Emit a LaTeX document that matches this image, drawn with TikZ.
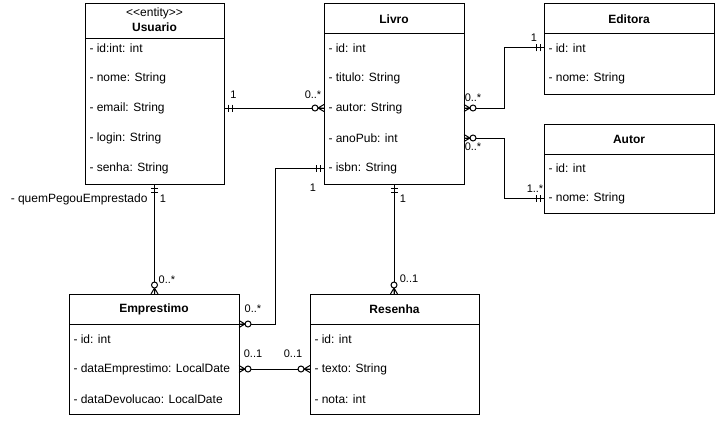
\documentclass[tikz,border=0pt]{standalone}
\usepackage{fontspec}
\setmainfont{Liberation Sans}
\usetikzlibrary{calc}
\begin{document}
\begin{tikzpicture}[x=1pt,y=-1pt,line width=1pt,
  classbox/.style={draw,anchor=north west,inner sep=0,outer sep=0},
  attr/.style={anchor=west,inner sep=0,font=\fontsize{12}{14}\selectfont},
  ctitle/.style={inner sep=0,font=\bfseries\fontsize{12}{14}\selectfont},
  plain/.style={inner sep=0,font=\fontsize{12}{14}\selectfont},
  mult/.style={inner sep=0,font=\fontsize{11}{13}\selectfont},
  mandone/.pic={\draw (4,-3.5)--(4,3.5) (8,-3.5)--(8,3.5);},
  zeromany/.pic={\draw (0,-3.5)--(6,0)--(0,3.5) (0,0)--(6,0);
                 \draw[fill=white] (9,0) circle[radius=3];}
]
\useasboundingbox (0,0) rectangle (719,420);

% ---------- Usuario ----------
\node[classbox,minimum width=139pt,minimum height=180pt] (usuario) at (85,4) {};
\draw ($(usuario.north west)+(0,35)$) -- ($(usuario.north east)+(0,35)$);
\node[plain] (u-st) at (154.5,13) {<\kern0pt<entity>\kern0pt>};
\node[ctitle] (u-t) at (154.5,27) {Usuario};
\node[attr] (u-id) at (89,48) {- id:int: int};
\node[attr] (u-nome) at (89,78) {- nome: String};
\node[attr] (u-email) at (89,108) {- email: String};
\node[attr] (u-login) at (89,138) {- login: String};
\node[attr] (u-senha) at (89,168) {- senha: String};

% ---------- Livro ----------
\node[classbox,minimum width=140pt,minimum height=180pt] (livro) at (324,4) {};
\draw ($(livro.north west)+(0,30)$) -- ($(livro.north east)+(0,30)$);
\node[ctitle] (l-t) at (394,19) {Livro};
\node[attr] (l-id) at (328,48) {- id: int};
\node[attr] (l-titulo) at (328,78) {- titulo: String};
\node[attr] (l-autor) at (328,108) {- autor: String};
\node[attr] (l-anopub) at (328,138) {- anoPub: int};
\node[attr] (l-isbn) at (328,168) {- isbn: String};

% ---------- Editora ----------
\node[classbox,minimum width=170pt,minimum height=90pt] (editora) at (544,4) {};
\draw ($(editora.north west)+(0,30)$) -- ($(editora.north east)+(0,30)$);
\node[ctitle] (ed-t) at (629,19) {Editora};
\node[attr] (ed-id) at (548,48) {- id: int};
\node[attr] (ed-nome) at (548,78) {- nome: String};

% ---------- Autor ----------
\node[classbox,minimum width=170pt,minimum height=89pt] (autor) at (544,124) {};
\draw ($(autor.north west)+(0,30)$) -- ($(autor.north east)+(0,30)$);
\node[ctitle] (a-t) at (629,139) {Autor};
\node[attr] (a-id) at (548,168) {- id: int};
\node[attr] (a-nome) at (548,198) {- nome: String};

% ---------- Emprestimo ----------
\node[classbox,minimum width=170pt,minimum height=120pt] (emprestimo) at (69,294) {};
\coordinate (esep) at ($(emprestimo.north east)+(0,30)$);
\draw ($(emprestimo.north west)+(0,30)$) -- (esep);
\node[ctitle] (e-t) at (154,309) {Emprestimo};
\node[attr] (e-id) at (73,339) {- id: int};
\node[attr] (e-data) at (73,369) {- dataEmprestimo: LocalDate};
\node[attr] (e-dev) at (73,399) {- dataDevolucao: LocalDate};

% ---------- Resenha ----------
\node[classbox,minimum width=169pt,minimum height=120pt] (resenha) at (310,294) {};
\draw ($(resenha.north west)+(0,30)$) -- ($(resenha.north east)+(0,30)$);
\node[ctitle] (r-t) at (394.5,309) {Resenha};
\node[attr] (r-id) at (314,339) {- id: int};
\node[attr] (r-texto) at (314,369) {- texto: String};
\node[attr] (r-nota) at (314,399) {- nota: int};

% ---------- connectors ----------
\draw (usuario.east |- u-email) -- (livro.west |- u-email);
\draw (livro.east |- l-autor) -- ++(40,0) |- (editora.west |- ed-id);
\draw (livro.east |- l-anopub) -- ++(40,0) |- (autor.west |- a-nome);
\draw (livro.west |- l-isbn) -- ++(-49,0) |- (esep);
\draw (usuario.south) -- (usuario.south |- emprestimo.north);
\draw (livro.south) -- (livro.south |- resenha.north);
\draw (emprestimo.east |- e-data) -- (resenha.west |- e-data);

% ---------- end marks ----------
\pic at (usuario.east |- u-email) {mandone};
\pic[rotate=180] at (livro.west |- u-email) {zeromany};
\pic at (livro.east |- l-autor) {zeromany};
\pic[rotate=180] at (editora.west |- ed-id) {mandone};
\pic at (livro.east |- l-anopub) {zeromany};
\pic[rotate=180] at (autor.west |- a-nome) {mandone};
\pic[rotate=180] at (livro.west |- l-isbn) {mandone};
\pic at (esep) {zeromany};
\pic[rotate=-90] at (usuario.south) {mandone};
\pic[rotate=90] at (usuario.south |- emprestimo.north) {zeromany};
\pic[rotate=-90] at (livro.south) {mandone};
\pic[rotate=90] at (livro.south |- resenha.north) {zeromany};
\pic at (emprestimo.east |- e-data) {zeromany};
\pic[rotate=180] at (resenha.west |- e-data) {zeromany};

% ---------- multiplicities ----------
\node[mult] (m1) at (233.5,95) {1};
\node[mult] (m2) at (313,95) {0..*};
\node[mult] (m3) at (473,98) {0..*};
\node[mult] (m4) at (534,38) {1};
\node[mult] (m5) at (473,147) {0..*};
\node[mult] (m6) at (535,189) {1..*};
\node[mult] (m7) at (313,188) {1};
\node[mult] (m8) at (253,309) {0..*};
\node[mult] (m9) at (163,199) {1};
\node[plain,anchor=east] (role) at (148,199) {- quemPegouEmprestado};
\node[mult] (m10) at (167,280) {0..*};
\node[mult] (m11) at (403,199) {1};
\node[mult] (m12) at (409,279) {0..1};
\node[mult] (m13) at (253,354) {0..1};
\node[mult] (m14) at (293,354) {0..1};
\end{tikzpicture}
\end{document}
